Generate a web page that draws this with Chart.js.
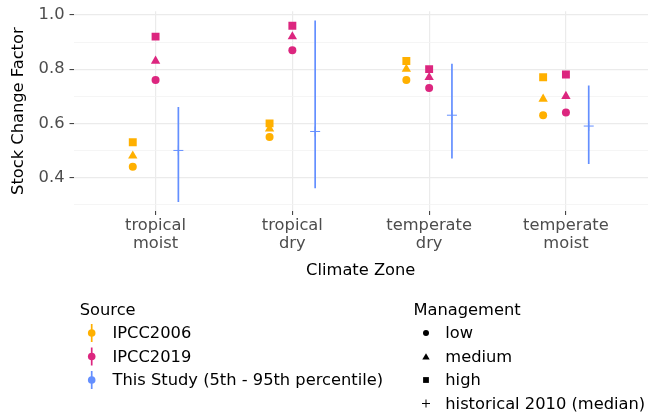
<!DOCTYPE html>
<html><head><meta charset="utf-8">
<script src="https://cdn.jsdelivr.net/npm/chart.js@4/dist/chart.umd.min.js"></script>
<style>
html,body{margin:0;padding:0;overflow:hidden;background:#fff;width:650px;height:415px}
#wrap{position:relative;width:654px;height:415px}
#c{position:absolute;left:0;top:0}
#lgsvg{position:absolute;left:0;top:0}
.t{position:absolute;font-family:"DejaVu Sans",sans-serif;font-size:16.3px;line-height:20px;color:#000;white-space:nowrap}
</style></head>
<body>
<div id="wrap">
<canvas id="c" width="654" height="290"></canvas>
<svg id="lgsvg" width="654" height="415" xmlns="http://www.w3.org/2000/svg">
  <g id="srcKeys"></g><g id="mgmtKeys"></g>
</svg>
<div class="t" style="left:79.7px;top:300px">Source</div>
<div class="t" style="left:112.5px;top:323px">IPCC2006</div>
<div class="t" style="left:112.5px;top:346.5px">IPCC2019</div>
<div class="t" style="left:112.5px;top:370px">This Study (5th - 95th percentile)</div>
<div class="t" style="left:413.4px;top:300px">Management</div>
<div class="t" style="left:445.3px;top:323px">low</div>
<div class="t" style="left:445.3px;top:346.5px">medium</div>
<div class="t" style="left:445.3px;top:370px">high</div>
<div class="t" style="left:445.3px;top:393.5px">historical 2010 (median)</div>
</div>
<script>
// ---- data ----
const zones = [["tropical","moist"],["tropical","dry"],["temperate","dry"],["temperate","moist"]];
const ipcc2006Low  = [0.44, 0.55, 0.76, 0.63];
const ipcc2006Med  = [0.48, 0.58, 0.80, 0.69];
const ipcc2006High = [0.53, 0.60, 0.83, 0.77];
const ipcc2019Low  = [0.76, 0.87, 0.73, 0.64];
const ipcc2019Med  = [0.83, 0.92, 0.77, 0.70];
const ipcc2019High = [0.92, 0.96, 0.80, 0.78];
const studyP5      = [0.31, 0.36, 0.47, 0.45];
const studyP95     = [0.66, 0.98, 0.82, 0.74];
const studyMedian  = [0.50, 0.57, 0.63, 0.59];
const yTickLabels  = [0.4, 0.6, 0.8, 1.0];
const yMinorTicks  = [0.3, 0.5, 0.7, 0.9];

const C2006 = '#FFB000', C2019 = '#DC267F', CSTUDY = '#648FFF';
const FS = 16.3;
const dodge = 1/6;
const pts = (vals, off) => vals.map((v, i) => ({x: i + off, y: v}));
function rangeData(lo, hi, off){
  const d = [];
  lo.forEach((v, i) => { d.push({x: i + off, y: v}, {x: i + off, y: hi[i]}, {x: i + off, y: null}); });
  return d;
}
const isMajor = v => yTickLabels.some(t => Math.abs(t - v) < 1e-6);
const pt = (data, color, style, r) => ({data, pointStyle: style, pointRadius: r, pointHoverRadius: r,
  backgroundColor: color, borderColor: color, borderWidth: 0, showLine: false});

new Chart(document.getElementById('c'), {
  type: 'scatter',
  data: { datasets: [
    {data: rangeData(studyP5, studyP95, dodge), showLine: true, spanGaps: false, pointRadius: 0,
     borderColor: CSTUDY, borderWidth: 1.7, backgroundColor: CSTUDY},
    {data: pts(studyMedian, dodge), pointStyle: 'cross', pointRadius: 5, borderColor: CSTUDY, borderWidth: 1, showLine: false},
    pt(pts(ipcc2006Low, -dodge), C2006, 'circle', 4),
    pt(pts(ipcc2006Med, -dodge), C2006, 'triangle', 5.4),
    pt(pts(ipcc2006High, -dodge), C2006, 'rect', 5.6),
    pt(pts(ipcc2019Low, 0), C2019, 'circle', 4),
    pt(pts(ipcc2019Med, 0), C2019, 'triangle', 5.4),
    pt(pts(ipcc2019High, 0), C2019, 'rect', 5.6),
  ]},
  options: {
    responsive: false, animation: false, devicePixelRatio: 1,
    layout: {padding: {top: 11.3, right: 1, left: 0, bottom: 0}},
    plugins: {legend: {display: false}, tooltip: {enabled: false}},
    scales: {
      x: {
        type: 'linear', min: -0.6, max: 3.6,
        afterBuildTicks: s => { s.ticks = zones.map((z, i) => ({value: i})); },
        afterFit: s => { s.height = 79; },
        border: {display: false},
        grid: {color: '#EBEBEB', lineWidth: 1.2, tickLength: 4, tickColor: '#333333', tickWidth: 1},
        ticks: {autoSkip: false, maxRotation: 0, padding: 1.5, color: '#4D4D4D',
          font: {family: 'DejaVu Sans', size: FS, lineHeight: 1.1},
          callback: v => zones[v]},
        title: {display: true, text: 'Climate Zone', color: '#000',
          font: {family: 'DejaVu Sans', size: FS, lineHeight: 1.2}, padding: {top: 0, bottom: 9.6}}
      },
      y: {
        type: 'linear', min: 0.2765, max: 1.0135,
        afterBuildTicks: s => { s.ticks = yMinorTicks.concat(yTickLabels).sort((a,b)=>a-b).map(v => ({value: v})); },
        afterFit: s => { s.width = 73.5; },
        border: {display: false},
        grid: {
          color: c => isMajor(c.tick.value) ? '#EBEBEB' : '#F2F2F2',
          lineWidth: c => isMajor(c.tick.value) ? 1.2 : 0.8,
          tickLength: 4,
          tickColor: c => isMajor(c.tick.value) ? '#333333' : 'rgba(0,0,0,0)',
          tickWidth: c => isMajor(c.tick.value) ? 1 : 0
        },
        ticks: {autoSkip: false, padding: 5, color: '#4D4D4D',
          font: {family: 'DejaVu Sans', size: FS, lineHeight: 0.6},
          callback: v => isMajor(v) ? v.toFixed(1) : ''},
        title: {display: true, text: 'Stock Change Factor', color: '#000',
          font: {family: 'DejaVu Sans', size: FS, lineHeight: 1.2}, padding: {top: 8.5, bottom: 0}}
      }
    }
  }
});

// ---- legend keys ----
const NS = 'http://www.w3.org/2000/svg';
function el(parent, tag, attrs){ const e = document.createElementNS(NS, tag); for (const k in attrs) e.setAttribute(k, attrs[k]); parent.appendChild(e); return e; }
const src = document.getElementById('srcKeys');
[[C2006, 333], [C2019, 356.5], [CSTUDY, 380]].forEach(([col, y]) => {
  el(src, 'line', {x1: 91.7, x2: 91.7, y1: y - 9, y2: y + 9, stroke: col, 'stroke-width': 1.7});
  el(src, 'circle', {cx: 91.7, cy: y, r: 3.8, fill: col});
});
const mg = document.getElementById('mgmtKeys');
el(mg, 'circle', {cx: 426, cy: 333, r: 3, fill: '#000'});
el(mg, 'polygon', {points: '422.3,359.6 429.7,359.6 426,353.2', fill: '#000'});
el(mg, 'rect', {x: 423.1, y: 377.1, width: 5.8, height: 5.8, fill: '#000'});
el(mg, 'line', {x1: 422, x2: 430, y1: 403.5, y2: 403.5, stroke: '#000', 'stroke-width': 1});
el(mg, 'line', {x1: 426, x2: 426, y1: 399.5, y2: 407.5, stroke: '#000', 'stroke-width': 1});
</script>
</body></html>
